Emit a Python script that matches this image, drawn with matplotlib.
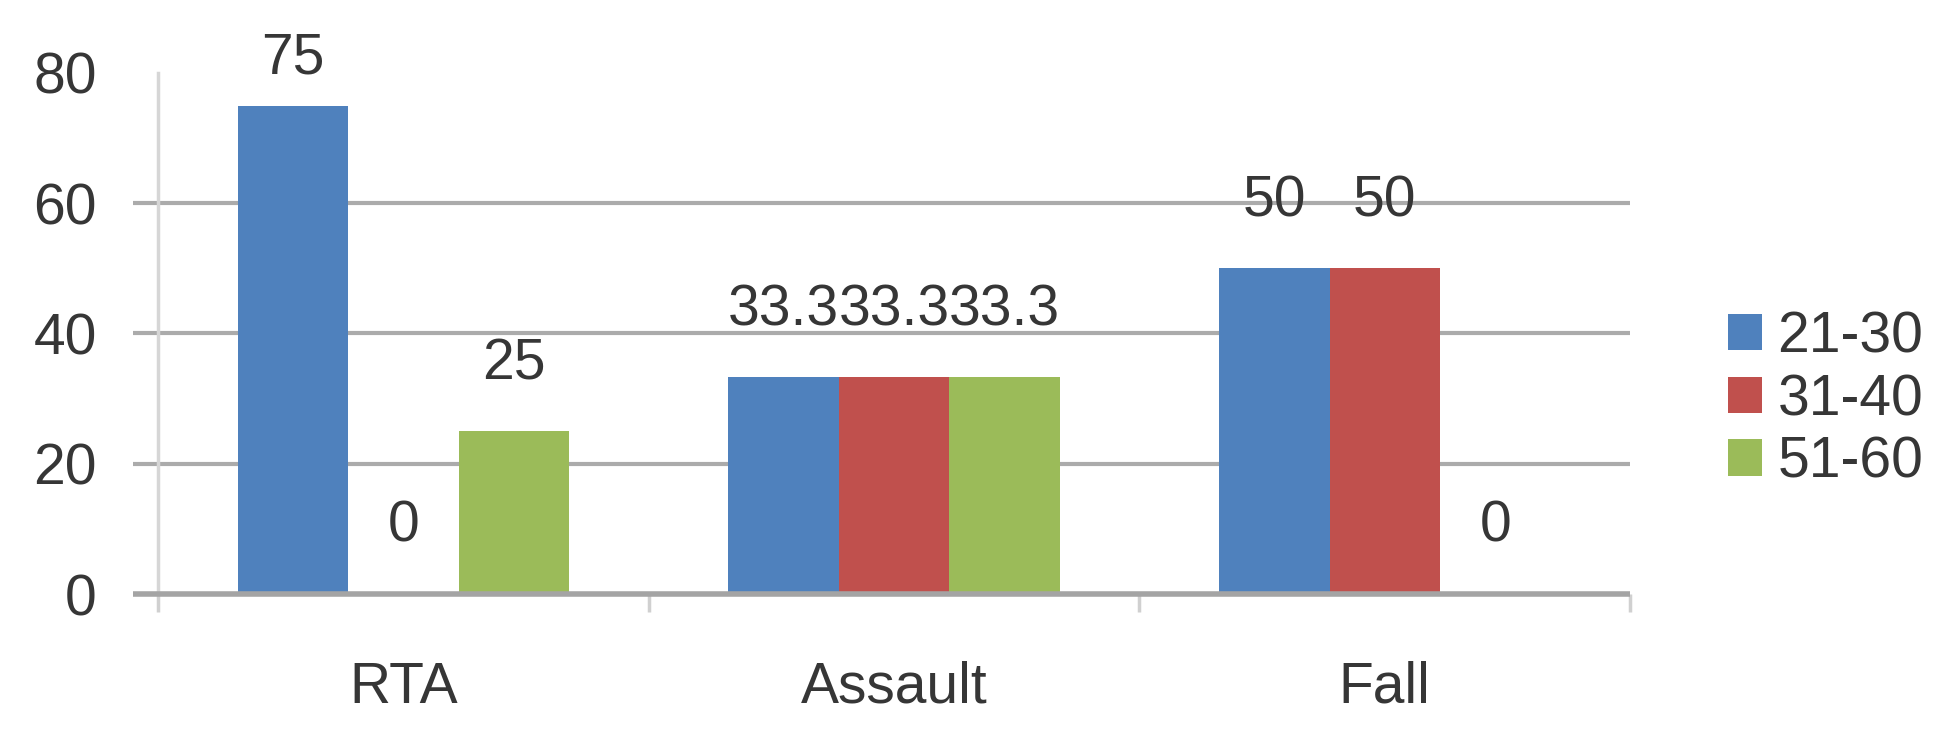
import matplotlib.pyplot as plt
import numpy as np

categories = ['RTA', 'Assault', 'Fall']
age_groups = ['21-30', '31-40', '51-60']
v_21_30 = [75, 33.3, 50]
v_31_40 = [0, 33.3, 50]
v_51_60 = [25, 33.3, 0]
yticks = [0, 20, 40, 60, 80]

colors = ['#4F81BD', '#C0504D', '#9BBB59']
text_col = '#363636'
grid_col = '#ababab'

plt.rcParams['font.family'] = ['Liberation Sans', 'DejaVu Sans']

fig = plt.figure(figsize=(19.42, 7.47), dpi=100)
ax = fig.add_axes([0.0814, 0.2048, 0.7580, 0.6975])

x = np.arange(len(categories))
width = 0.225
series = [v_21_30, v_31_40, v_51_60]
handles = []
for i, (vals, col) in enumerate(zip(series, colors)):
    pos = x + (i - 1) * width
    b = ax.bar(pos, vals, width, color=col, zorder=2)
    handles.append(b)
    for px, v in zip(pos, vals):
        # excel keeps the label inside the chart area
        ty = min(v + 10.3, 82.3)
        ax.text(px, ty, f'{v:g}', ha='center', va='center',
                fontsize=41, color=text_col, zorder=4)

ax.set_xlim(-0.5, 2.5)
ax.set_ylim(0, 80)

# gridlines (no line at the top), sticking out left of the axis
for yv in yticks[1:-1]:
    ax.plot([-0.017, 1], [yv, yv], transform=ax.get_yaxis_transform(),
            color=grid_col, lw=3, zorder=1, clip_on=False, solid_capstyle='butt')
ax.plot([-0.017, 1], [0, 0], transform=ax.get_yaxis_transform(),
        color='#a4a4a4', lw=4, zorder=3, clip_on=False, solid_capstyle='butt')

for s in ['top', 'right', 'bottom']:
    ax.spines[s].set_visible(False)
ax.spines['left'].set_color('#d6d6d6')
ax.spines['left'].set_linewidth(2.5)

ax.set_yticks(yticks)
ax.tick_params(axis='y', length=0, pad=44, labelsize=41, labelcolor=text_col)

ax.set_xticks(x)
ax.set_xticklabels(categories)
ax.tick_params(axis='x', which='major', length=0, pad=48, labelsize=41,
               labelcolor=text_col)
ax.set_xticks([-0.5, 0.5, 1.5, 2.5], minor=True)
ax.tick_params(axis='x', which='minor', length=13, width=2.5, color='#d0d0d0',
               direction='out')

ax.legend(handles, age_groups, loc='center left',
          bbox_to_anchor=(0.8898, 0.4645), bbox_transform=fig.transFigure,
          frameon=False, fontsize=41, handlelength=0.6, handleheight=0.6,
          handletextpad=0.27, labelspacing=0.15, borderpad=0, borderaxespad=0,
          labelcolor=text_col)

fig.savefig('out.png', dpi=100, facecolor='white')
